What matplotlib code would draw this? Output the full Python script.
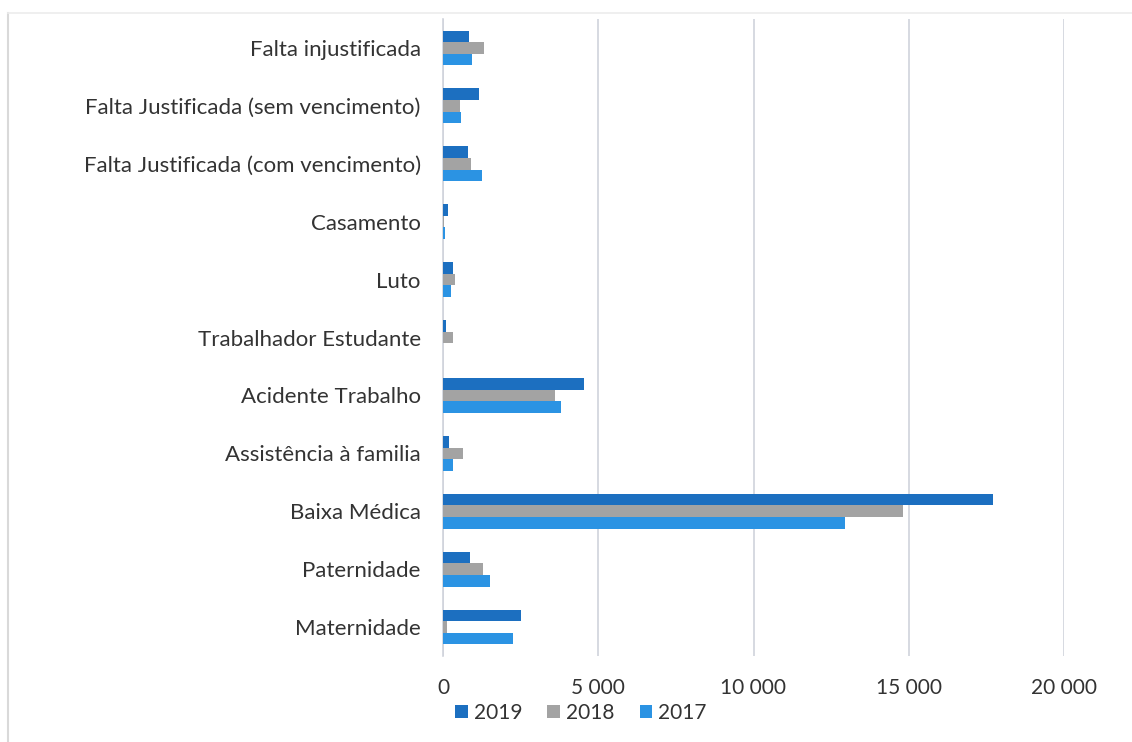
import matplotlib.pyplot as plt
import numpy as np
from matplotlib.lines import Line2D
from matplotlib.ticker import FuncFormatter

# categories listed bottom to top (Excel order)
categories = ['Maternidade', 'Paternidade', 'Baixa Médica', 'Assistência à familia',
              'Acidente Trabalho', 'Trabalhador Estudante', 'Luto', 'Casamento',
              'Falta Justificada (com vencimento)',
              'Falta Justificada (sem vencimento)', 'Falta injustificada']
v2019 = [2500, 860, 17720, 180, 4530, 110, 330, 170, 790, 1170, 840]
v2018 = [120, 1280, 14820, 640, 3610, 320, 380, 30, 890, 540, 1320]
v2017 = [2240, 1500, 12940, 330, 3800, 0, 260, 70, 1270, 570, 945]
years = ['2019', '2018', '2017']
x_ticks = [0, 5000, 10000, 15000, 20000]

plt.rcParams['font.family'] = ['Lato', 'DejaVu Sans']

fig = plt.figure(figsize=(11.32, 7.42), dpi=100)
ax = fig.add_axes([443 / 1132, 1 - 656 / 742, (1064 - 443) / 1132, (656 - 19) / 742])

y = np.arange(len(categories))
h = 0.2
colors = ['#1c6fc0', '#a3a3a3', '#2b93e3']
for off, vals, lab, c in zip([h, 0, -h], [v2019, v2018, v2017], years, colors):
    ax.barh(y + off, vals, height=h, color=c, label=lab, zorder=3)

ax.set_xlim(0, 20000)
ax.set_ylim(-0.5, len(categories) - 0.5)
ax.set_xticks(x_ticks)
ax.xaxis.set_major_formatter(FuncFormatter(lambda v, p: f'{int(v):,}'.replace(',', ' ')))
ax.set_yticks(y)
ax.set_yticklabels(categories)
ax.tick_params(axis='both', length=0, labelsize=15, colors='#333333')
ax.tick_params(axis='y', pad=16, labelsize=16)
ax.tick_params(axis='x', pad=16)
ax.grid(axis='x', color='#d0d3dc', linewidth=1.2, zorder=0)
for s in ['top', 'right', 'bottom']:
    ax.spines[s].set_visible(False)
ax.spines['left'].set_color('#d0d3dc')
ax.spines['left'].set_linewidth(1.2)

fig.legend(loc='center', bbox_to_anchor=(581 / 1132, 1 - 713 / 742), ncol=3,
           frameon=False, fontsize=15, handlelength=0.6, handleheight=0.6,
           handletextpad=0.3, columnspacing=1.2, labelcolor='#333333')

# chart area border (left and top visible)
fig.add_artist(Line2D([8 / 1132, 8 / 1132], [0, 1 - 13 / 742], color='#d9d9d9', lw=1.5))
fig.add_artist(Line2D([8 / 1132, 1], [1 - 13 / 742, 1 - 13 / 742], color='#ececec', lw=1.2))

fig.savefig('out.png', dpi=100)
